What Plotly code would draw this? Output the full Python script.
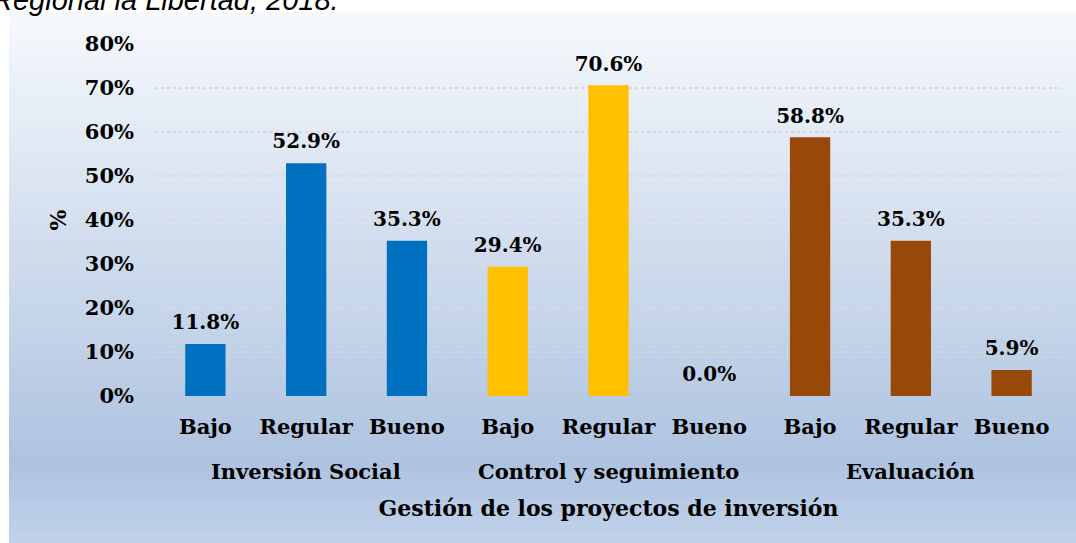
import plotly.graph_objects as go

# ============================================================================
# Data
# ============================================================================

groups = ["Inversión Social", "Control y seguimiento", "Evaluación"]
levels = ["Bajo", "Regular", "Bueno"]
inversion_social = [0.118, 0.529, 0.353]
control_seguimiento = [0.294, 0.706, 0.0]
evaluacion = [0.588, 0.353, 0.059]
y_ticks = [0, 0.1, 0.2, 0.3, 0.4, 0.5, 0.6, 0.7, 0.8]

group_colors = ["#0070C0", "#FFC000", "#984807"]

x_pos, x_text, y_vals, bar_colors, group_mid = [], [], [], [], []
for g, vals, col in zip(groups, [inversion_social, control_seguimiento, evaluacion], group_colors):
    start = len(x_pos)
    for lev, v in zip(levels, vals):
        x_pos.append(len(x_pos))
        x_text.append(lev)
        y_vals.append(v)
        bar_colors.append(col)
    group_mid.append((start + len(x_pos) - 1) / 2)

# ============================================================================
# Layout geometry (pixels)
# ============================================================================

W, H = 1076, 543
ML, MR, MT, MB = 155, 14, 44, 147
PW, PH = W - ML - MR, H - MT - MB


def px_x(p):
    return (p - ML) / PW


def px_y(p):
    return (H - MB - p) / PH


FONT = "DejaVu Serif"

# background gradient as thin horizontal strips
stops = [(0.0, (246, 249, 253)), (0.85, (174, 195, 224)), (1.0, (193, 210, 234))]


def grad_color(t):
    for (t0, c0), (t1, c1) in zip(stops[:-1], stops[1:]):
        if t <= t1:
            f = (t - t0) / (t1 - t0)
            return "rgb(%d,%d,%d)" % tuple(round(a + (b - a) * f) for a, b in zip(c0, c1))
    return "rgb(%d,%d,%d)" % stops[-1][1]


top_px, bot_px, n_strips = 12, H, 120
shapes = []
for i in range(n_strips):
    p0 = top_px + (bot_px - top_px) * i / n_strips
    p1 = top_px + (bot_px - top_px) * (i + 1) / n_strips + 0.6
    shapes.append(dict(
        type="rect", xref="paper", yref="paper", layer="below",
        x0=px_x(9), x1=px_x(W + 2), y0=px_y(p1), y1=px_y(p0),
        fillcolor=grad_color((i + 0.5) / n_strips), line=dict(width=0),
    ))

# ============================================================================
# Figure
# ============================================================================

fig = go.Figure()
fig.add_trace(go.Bar(
    x=x_pos, y=y_vals, width=0.4,
    marker=dict(color=bar_colors, line=dict(width=0)),
    hoverinfo="skip",
))
fig.add_trace(go.Scatter(
    x=x_pos, y=y_vals,
    mode="markers+text",
    marker=dict(size=14, color="rgba(0,0,0,0)"),
    text=[f"{v * 100:.1f}%" for v in y_vals],
    textposition="top center",
    textfont=dict(family=FONT, size=20, color="black", weight="bold"),
    hoverinfo="skip", cliponaxis=False,
))

# group labels under the category labels
for g, xm in zip(groups, group_mid):
    fig.add_annotation(
        text=g, x=xm, xref="x", y=px_y(471), yref="paper",
        yanchor="middle", showarrow=False,
        font=dict(family=FONT, size=21, color="black", weight="bold"),
    )

fig.add_annotation(
    text="Regional la Libertad, 2018.", xref="paper", yref="paper",
    x=px_x(-10), y=px_y(-18), xanchor="left", yanchor="top", showarrow=False,
    font=dict(family="Liberation Sans", size=29, color="black", style="italic"),
)

fig.update_layout(
    width=W, height=H,
    margin=dict(l=ML, r=MR, t=MT, b=MB, autoexpand=False),
    paper_bgcolor="white", plot_bgcolor="rgba(0,0,0,0)",
    showlegend=False,
    shapes=shapes,
    font=dict(family=FONT, color="black"),
)
fig.update_yaxes(
    range=[0, 0.8], tickvals=y_ticks, tickformat=".0%",
    tickfont=dict(family=FONT, size=21, weight="bold"),
    showgrid=True, gridcolor="#d9d9d9", griddash="dot", gridwidth=1.5,
    zeroline=False, showline=False, ticks="", ticklabelstandoff=20,
    title=dict(text="%", font=dict(family=FONT, size=22, weight="bold"), standoff=12),
)
fig.update_xaxes(
    range=[-0.5, len(x_pos) - 0.5], tickvals=x_pos, ticktext=x_text,
    showgrid=False, zeroline=False, showline=False, ticks="",
    ticklabelstandoff=16,
    tickfont=dict(family=FONT, size=21, weight="bold"),
    title=dict(text="Gestión de los proyectos de inversión",
               font=dict(family=FONT, size=22, weight="bold"), standoff=62),
)

fig.write_html("out.html", config={"displayModeBar": False},
               post_script="document.body.style.margin='0';")
